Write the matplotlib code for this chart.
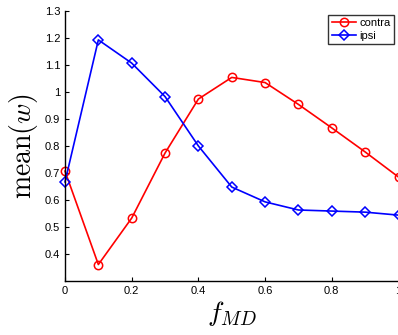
import matplotlib
matplotlib.use("Agg")
import matplotlib.pyplot as plt

x = [0, 0.1, 0.2, 0.3, 0.4, 0.5, 0.6, 0.7, 0.8, 0.9, 1.0]
contra = [0.707, 0.361, 0.533, 0.774, 0.974, 1.054, 1.035, 0.954, 0.867, 0.778, 0.685]
ipsi = [0.667, 1.193, 1.107, 0.983, 0.800, 0.648, 0.593, 0.563, 0.559, 0.555, 0.544]
xticks = [0, 0.2, 0.4, 0.6, 0.8, 1]
xticklabels = ["0", "0.2", "0.4", "0.6", "0.8", "1"]
yticks = [0.4, 0.5, 0.6, 0.7, 0.8, 0.9, 1.0, 1.1, 1.2, 1.3]
yticklabels = ["0.4", "0.5", "0.6", "0.7", "0.8", "0.9", "1", "1.1", "1.2", "1.3"]

plt.rcParams['font.family'] = ['Liberation Sans', 'DejaVu Sans']
plt.rcParams['mathtext.fontset'] = 'cm'

fig = plt.figure(figsize=(3.98, 3.35), dpi=100)
ax = fig.add_axes([65/398, 54/335, 333.5/398, 270/335])
ax.plot(x, contra, color='red', marker='o', markersize=6, markerfacecolor='none',
        markeredgewidth=1.1, linewidth=1.2, label='contra', clip_on=False)
ax.plot(x, ipsi, color='blue', marker='D', markersize=5, markerfacecolor='none',
        markeredgewidth=1.1, linewidth=1.2, label='ipsi', clip_on=False)
ax.set_xlim(0, 1)
ax.set_ylim(0.3, 1.3)
ax.set_xticks(xticks)
ax.set_xticklabels(xticklabels)
ax.set_yticks(yticks)
ax.set_yticklabels(yticklabels)
ax.tick_params(direction='in', length=3, labelsize=8, width=0.8)
ax.spines['top'].set_visible(False)
ax.spines['right'].set_visible(False)
for s in ['left', 'bottom']:
    ax.spines[s].set_linewidth(1.0)
ax.set_xlabel(r'$f_{MD}$', fontsize=20, labelpad=2)
ax.set_ylabel(r'$\mathrm{mean}(w)$', fontsize=20)
ax.yaxis.set_label_coords((40 - 65) / 333.5, 0.5)
leg = ax.legend(loc='upper right', bbox_to_anchor=((394 - 65) / 333.5, (281 - 15) / 270),
                fontsize=8, frameon=True, fancybox=False, edgecolor='black',
                borderpad=0.3, handlelength=2.2, labelspacing=0.2, handletextpad=0.3,
                borderaxespad=0.0)
leg.get_frame().set_linewidth(1.0)
fig.savefig('out.png', dpi=100)
